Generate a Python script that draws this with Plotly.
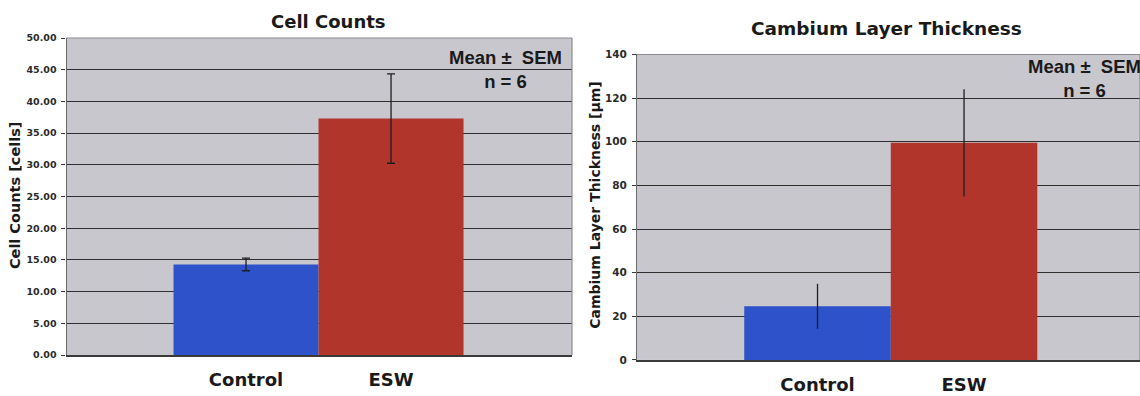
import plotly.graph_objects as go

# Group labels and measured values (mean and SEM, n = 6)
groups = ["Control", "ESW"]
bar_colors = ["#2d52c9", "#b1352a"]

cell_counts = [14.3, 37.3]
cell_counts_sem = [1.0, 7.05]

cambium_thickness = [24.6, 99.5]
cambium_thickness_sem = [10.3, 24.6]

cell_ticks = [0, 5, 10, 15, 20, 25, 30, 35, 40, 45, 50]
cambium_ticks = [0, 20, 40, 60, 80, 100, 120, 140]

W, H = 1140, 396
PLOT_BG = "#c8c7ce"
GRID = "#2e2e2e"
BOLD = "DejaVu Sans"

fig = go.Figure()

fig.add_trace(go.Bar(
    x=[0, 1], y=cell_counts, width=[1, 1],
    marker=dict(color=bar_colors, line=dict(width=0)),
    error_y=dict(type="data", array=cell_counts_sem, visible=True,
                 color="#1e1e1e", thickness=1.3, width=4),
    xaxis="x", yaxis="y", showlegend=False, hoverinfo="skip",
))

fig.add_trace(go.Bar(
    x=[0, 1], y=cambium_thickness, width=[1, 1],
    marker=dict(color=bar_colors, line=dict(width=0)),
    error_y=dict(type="data", array=cambium_thickness_sem, visible=True,
                 color="#1e1e1e", thickness=1.3, width=0),
    xaxis="x2", yaxis="y2", showlegend=False, hoverinfo="skip",
))

def px_x(p):
    return p / W

def px_y(p):
    return 1 - p / H

common_x = dict(
    tickmode="array", tickvals=[0, 1], ticktext=groups,
    tickfont=dict(family=BOLD, size=18, color="#1a1a1a", weight="bold"),
    showgrid=False, zeroline=False, showline=True,
    linecolor="#3a3a3a", linewidth=1.5, ticks="", ticklabelstandoff=8,
    fixedrange=True,
)
common_y = dict(
    tickmode="array", showgrid=True, gridcolor=GRID, gridwidth=1.3,
    zeroline=False, showline=True, linecolor="#6a6a6a", linewidth=1.2,
    ticks="outside", ticklen=4, tickcolor="#3a3a3a", tickwidth=1.2,
    ticklabelstandoff=3, fixedrange=True,
)

fig.update_layout(
    width=W, height=H, autosize=False,
    margin=dict(l=0, r=0, t=0, b=0),
    paper_bgcolor="white", plot_bgcolor=PLOT_BG,
    barmode="overlay",
    xaxis=dict(common_x, domain=[px_x(66.5), px_x(572)], range=[-1.238, 2.248],
               anchor="y"),
    yaxis=dict(common_y, domain=[px_y(360), px_y(33)], range=[0, 50],
               tickvals=cell_ticks, tickformat=".2f",
               tickfont=dict(family=BOLD, size=9.5, color="#2a2a2a", weight="bold"),
               anchor="x"),
    xaxis2=dict(common_x, domain=[px_x(637), 1.0], range=[-1.232, 2.201],
                anchor="y2"),
    yaxis2=dict(common_y, domain=[px_y(365), px_y(50)], range=[0, 140],
                tickvals=cambium_ticks, tickformat="d",
                tickfont=dict(family=BOLD, size=10.5, color="#2a2a2a", weight="bold"),
                anchor="x2"),
)

# Light plot-area border along the top and right edges
for xr, yr in (("x domain", "y domain"), ("x2 domain", "y2 domain")):
    fig.add_shape(type="line", xref=xr, yref=yr, x0=0, x1=1, y0=1, y1=1,
                  line=dict(color="#8c8c8c", width=1.2), layer="above")
    fig.add_shape(type="line", xref=xr, yref=yr, x0=1, x1=1, y0=0, y1=1,
                  line=dict(color="#8c8c8c", width=1.2), layer="above")

def note(text, x, y, size, family=BOLD, angle=0, color="#1a1a1a"):
    fig.add_annotation(
        text=text, xref="paper", yref="paper", x=px_x(x), y=px_y(y),
        xanchor="center", yanchor="middle", showarrow=False, textangle=angle,
        font=dict(family=family, size=size, color=color, weight="bold"),
    )

# Chart titles
note("Cell Counts", 328, 16, 18)
note("Cambium Layer Thickness", 886, 23, 18.5)

# Axis titles
note("Cell Counts [cells]", 15, 195, 14.5, angle=-90)
note("Cambium Layer Thickness [µm]", 595, 205, 14, angle=-90)

# Statistics notes
note("Mean ±  SEM<br>n = 6", 505, 66, 18.5, family="Liberation Sans")
note("Mean ±  SEM<br>n = 6", 1084, 75, 18.5, family="Liberation Sans")

fig.write_html("out.html")
